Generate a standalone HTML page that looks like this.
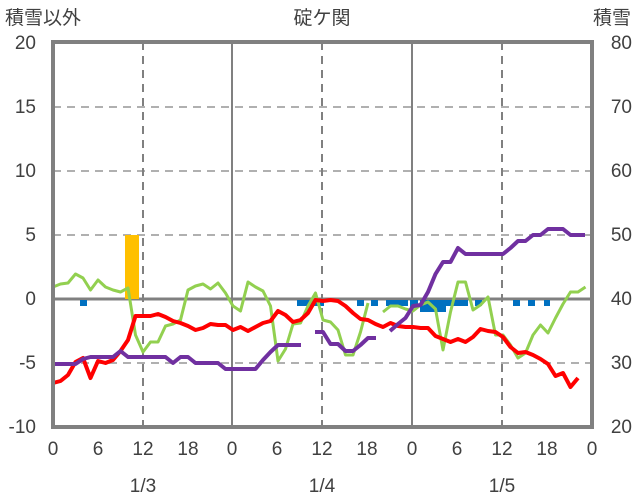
<!DOCTYPE html><html><head><meta charset="utf-8"><style>body{margin:0;background:#fff}svg{display:block}text{font-family:"Liberation Sans","Noto Sans CJK JP",sans-serif;fill:#404040;font-size:19px}</style></head><body>
<svg width="636" height="501" viewBox="0 0 636 501">
<g stroke="#b0b0b0" stroke-width="2" stroke-dasharray="8,6">
<line x1="53" y1="107" x2="592" y2="107"/><line x1="53" y1="171" x2="592" y2="171"/><line x1="53" y1="235" x2="592" y2="235"/><line x1="53" y1="363" x2="592" y2="363"/></g>
<g stroke="#808080" stroke-width="2" stroke-dasharray="8,6">
<line x1="143" y1="42" x2="143" y2="427"/><line x1="322" y1="42" x2="322" y2="427"/><line x1="502" y1="42" x2="502" y2="427"/></g>
<g stroke="#808080" stroke-width="2"><line x1="232" y1="42" x2="232" y2="427"/><line x1="412" y1="42" x2="412" y2="427"/></g>
<line x1="53" y1="299" x2="592" y2="299" stroke="#808080" stroke-width="3"/>
<rect x="125" y="235" width="14" height="64" fill="#ffc000"/>
<g fill="#0070c0">
<rect x="80" y="300" width="7" height="6"/><rect x="297" y="300" width="21" height="6"/><rect x="320" y="300" width="4" height="6"/><rect x="357" y="300" width="7" height="6"/><rect x="371" y="300" width="7" height="6"/><rect x="386" y="300" width="22" height="6"/><rect x="410" y="300" width="8" height="8"/><rect x="420" y="300" width="26" height="12"/><rect x="446" y="300" width="22" height="6"/><rect x="475" y="300" width="7" height="6"/><rect x="513" y="300" width="7" height="6"/><rect x="528" y="300" width="7" height="6"/><rect x="544" y="300" width="6" height="6"/></g>
<polyline fill="none" stroke="#92d050" stroke-width="3" stroke-linejoin="round" points="53,287 60.5,284 68,283 75.5,274 83,278 90.5,290 98,280 105.5,287 113,290 120.5,292 128,288 135.5,335 143,352 150.5,342 158,342 165.5,326 173,324 180.5,320 188,290 195.5,286 203,284 210.5,289 218,283 225.5,293 233,306 240.5,311 248,282 255.5,287 263,291 270.5,306 278,361 285.5,349 293,324 300.5,323 308,306 315.5,293 323,320 330.5,322 338,330 345.5,355 353,355 360.5,332 368,303"/>
<polyline fill="none" stroke="#92d050" stroke-width="3" stroke-linejoin="round" points="383,312 390.5,306 398,306 405.5,309 413,311 420.5,305 428,302 435.5,309 443,350 450.5,312 458,282 465.5,282 473,310 480.5,305 488,297 495.5,335 503,335 510.5,345 518,358 525.5,353 533,335 540.5,325 548,333 555.5,318 563,304 570.5,292 578,292 585.5,287"/>
<polyline fill="none" stroke="#ff0000" stroke-width="4" stroke-linejoin="round" points="53,383 60.5,381 68,375 75.5,362 83,358 90.5,378 98,361 105.5,363 113,360 120.5,351 128,340 135.5,316 143,316 150.5,316 158,314 165.5,317 173,321 180.5,323 188,326 195.5,330 203,328 210.5,324 218,325 225.5,325 233,330 240.5,327 248,331 255.5,327 263,323 270.5,321 278,311 285.5,315 293,322 300.5,320 308,313 315.5,300 323,301 330.5,300 338,301 345.5,306 353,313 360.5,319 368,320 375.5,324 383,327 390.5,323 398,326 405.5,327 413,327 420.5,328 428,328 435.5,336 443,339 450.5,342 458,339 465.5,342 473,337 480.5,329 488,331 495.5,332 503,337 510.5,347 518,353 525.5,352 533,355 540.5,359 548,364 555.5,376 563,373 570.5,387 578,378"/>
<g fill="none" stroke="#7030a0" stroke-width="4" stroke-linejoin="round">
<polyline points="53,364 75.5,364 83,359 90.5,357 113,357 120.5,351 128,357 165.5,357 173,363 180.5,357 188,357 195.5,363 218,363 225.5,369 255.5,369 263,360 270.5,352 278,345 301,345"/>
<polyline points="315,332 323,332 330.5,344 338,344 345.5,351 353,351 360.5,345 368,338 376,338"/>
<polyline points="390,331 398,324 405.5,318 413,306 420.5,305 428,292 435.5,274 443,262 450.5,262 458,248 465.5,254 503,254 510.5,248 518,241 525.5,241 533,235 540.5,235 548,229 563,229 570.5,235 585,235"/></g>
<rect x="53" y="42" width="539" height="385" fill="none" stroke="#808080" stroke-width="4"/>
<text x="5" y="24">積雪以外</text><text x="322" y="24" text-anchor="middle">碇ケ関</text><text x="631" y="24" text-anchor="end">積雪</text>
<g text-anchor="end"><text x="36" y="49">20</text><text x="36" y="113">15</text><text x="36" y="177">10</text><text x="36" y="241">5</text><text x="36" y="305">0</text><text x="36" y="369">-5</text><text x="36" y="433">-10</text></g>
<g text-anchor="end"><text x="632" y="49">80</text><text x="632" y="113">70</text><text x="632" y="177">60</text><text x="632" y="241">50</text><text x="632" y="305">40</text><text x="632" y="369">30</text><text x="632" y="433">20</text></g>
<g text-anchor="middle"><text x="53" y="455">0</text><text x="98" y="455">6</text><text x="143" y="455">12</text><text x="188" y="455">18</text><text x="232" y="455">0</text><text x="277" y="455">6</text><text x="322" y="455">12</text><text x="367" y="455">18</text><text x="412" y="455">0</text><text x="457" y="455">6</text><text x="502" y="455">12</text><text x="547" y="455">18</text><text x="592" y="455">0</text>
<text x="143" y="492">1/3</text><text x="322" y="492">1/4</text><text x="502" y="492">1/5</text></g>
</svg></body></html>
